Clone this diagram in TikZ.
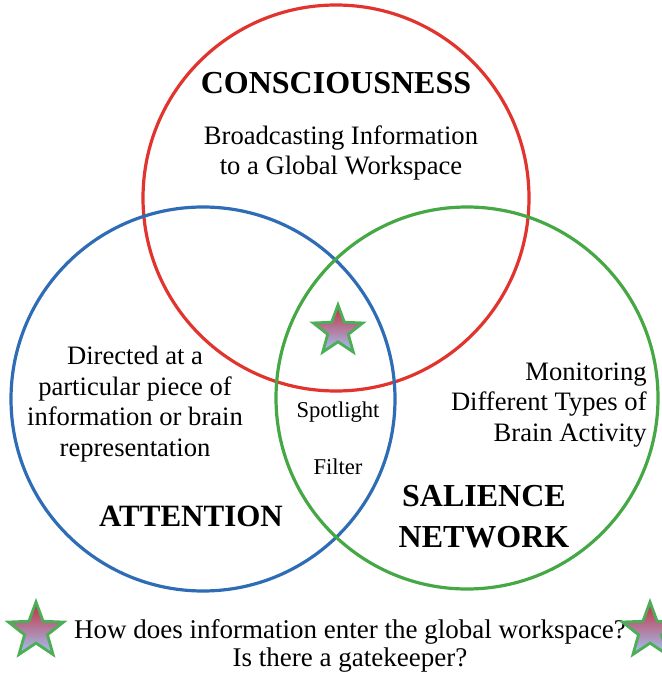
\documentclass[tikz,border=0pt]{standalone}
\usepackage{fontspec}
\setmainfont{Liberation Serif}
\usepackage{xcolor}
\usetikzlibrary{shapes.geometric, positioning}

\definecolor{ringRed}{HTML}{E2342E}
\definecolor{ringBlue}{HTML}{2E6CB6}
\definecolor{ringGreen}{HTML}{45A845}
\definecolor{starTop}{HTML}{C42C3C}
\definecolor{starMid}{HTML}{B27CA6}
\definecolor{starBot}{HTML}{A2C6F8}
\definecolor{starEdge}{HTML}{4CAF58}

\begin{document}
\begin{tikzpicture}[x=0.5pt, y=-0.5pt,
            ring/.style={line width=1.6pt},
            title/.style={font=\fontsize{16}{20.5}\selectfont\bfseries, align=center, inner sep=0pt},
            body/.style={font=\fontsize{13.3}{15.3}\selectfont, align=center, inner sep=0pt},
            small/.style={font=\fontsize{11.3}{13}\selectfont, inner sep=0pt},
            gatestar/.style={star, star points=5, star point ratio=2.4, draw=starEdge, line width=1.4pt,
                top color=starTop, middle color=starMid, bottom color=starBot, inner sep=0pt, outer sep=0pt}
        ]
            \useasboundingbox (0,0) rectangle (662,673);

% Circles
            \coordinate (cCons) at (336,198);
            \coordinate (cAtt) at (203,399);
            \coordinate (cSal) at (467,398);
            \draw[ring, ringRed] (cCons) circle (193);
            \draw[ring, ringBlue] (cAtt) circle (192);
            \draw[ring, ringGreen] (cSal) circle (191);

% Consciousness
            \node[title] (cons) at (336,83) {CONSCIOUSNESS};
            \node[body] (consTxt) at (341,153) {Broadcasting Information\\to a Global Workspace};

% Attention
            \node[body] (attTxt) at (135,404) {Directed at a\\particular piece of\\information or brain\\representation};
            \node[title, font=\fontsize{15.5}{20}\selectfont\bfseries] (att) at (191,516) {ATTENTION};

% Salience network
            \node[body, align=right, anchor=east] (salTxt) at (647,405) {Monitoring\\Different Types of\\Brain Activity};
            \node[title] (sal) at (484,517) {SALIENCE\\NETWORK};

% Overlap
            \node[gatestar, minimum size=26pt] (midStar) at (338,331) {};
            \node[small] (spot) at (338,412) {Spotlight};
            \node[small] (filt) at (338,467) {Filter};

% Question
            \node[body, font=\fontsize{13.5}{14}\selectfont] (quest) at (350,646) {How does information enter the global workspace?\\Is there a gatekeeper?};
            \node[gatestar, minimum size=29pt] (leftStar) at (36,631) {};
            \node[gatestar, minimum size=29pt] (rightStar) at (650,631) {};

        \end{tikzpicture}
\end{document}
